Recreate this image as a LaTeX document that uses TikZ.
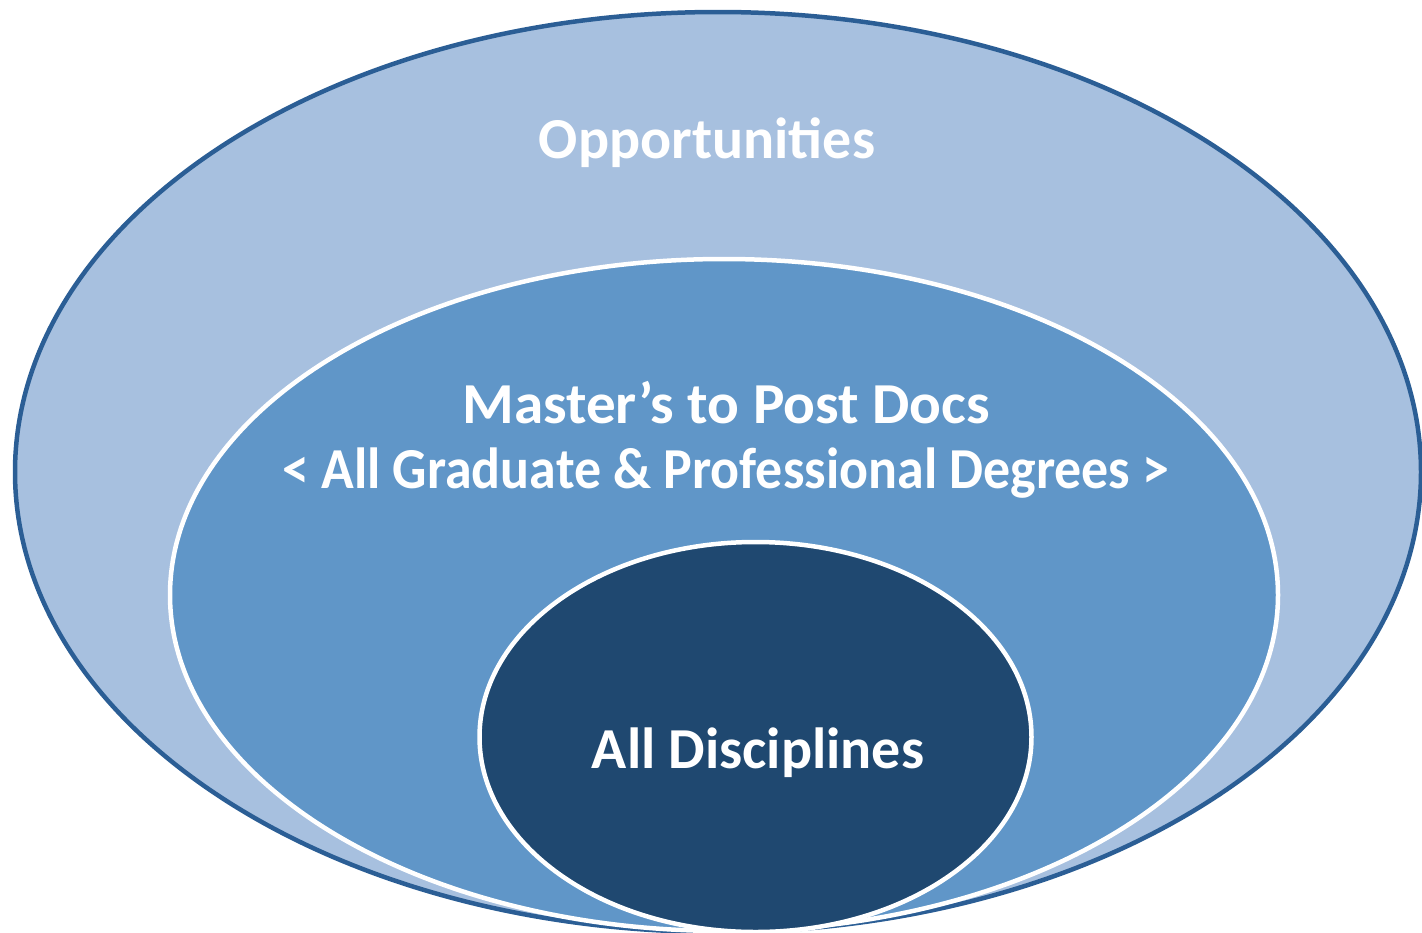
\documentclass[tikz,border=0pt]{standalone}
\usepackage{fontspec}
\setmainfont{Carlito}
\definecolor{outerfill}{HTML}{A7C0DF}
\definecolor{outerline}{HTML}{2B5E95}
\definecolor{midfill}{HTML}{6096C8}
\definecolor{innerfill}{HTML}{1F4870}
\begin{document}
\begin{tikzpicture}[x=1pt,y=-1pt,
  lbl/.style={text=white,font=\bfseries\fontsize{58}{60}\selectfont,inner sep=0pt,anchor=base},
  ring/.style={draw=white,line width=4.5pt}]
\useasboundingbox (0,0) rectangle (1422,932);
\begin{scope}
\clip (0,0) rectangle (1422,932);
\draw[fill=outerfill,draw=outerline,line width=4.5pt] (718,472) ellipse [x radius=703, y radius=460];
\draw[ring,fill=midfill] (724,595) ellipse [x radius=554, y radius=336];
\draw[ring,fill=innerfill] (755.5,737) ellipse [x radius=276, y radius=195];
\end{scope}
\node[lbl] (opp) at (707,158) {Opportunities};
\node[lbl,xscale=1.02] (mas) at (726,423) {Master’s to Post Docs};
\node[lbl,xscale=0.93] (deg) at (726,488) {< All Graduate \& Professional Degrees >};
\node[lbl] (dis) at (758,768) {All Disciplines};
\end{tikzpicture}
\end{document}
